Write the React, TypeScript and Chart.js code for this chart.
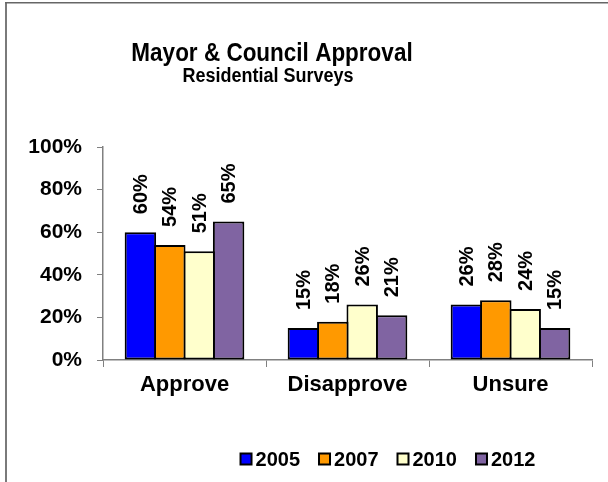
import React, { useEffect, useRef } from "react";
import { Chart, registerables } from "chart.js";

Chart.register(...registerables);

const categories = ["Approve", "Disapprove", "Unsure"];
const years = ["2005", "2007", "2010", "2012"];
const series2005 = [60, 15, 26];
const series2007 = [54, 18, 28];
const series2010 = [51, 26, 24];
const series2012 = [65, 21, 15];
const yTicks = [0, 20, 40, 60, 80, 100];
const colors = ["#0000FF", "#FF9900", "#FFFFCC", "#8064A2"];
const titleText = "Mayor & Council Approval";
const subtitleText = "Residential Surveys";

const FONT = "Arial, 'Liberation Sans', sans-serif";

const decorPlugin = {
  id: "decor",
  beforeDraw(chart: any) {
    const ctx = chart.ctx;
    ctx.save();
    ctx.fillStyle = "#ffffff";
    ctx.fillRect(0, 0, chart.width, chart.height);
    ctx.fillStyle = "#7a7a7a";
    ctx.fillRect(5, 2, 2, chart.height - 2);
    ctx.fillStyle = "#666666";
    ctx.fillRect(5, 2, chart.width - 5, 1.5);
    ctx.fillStyle = "#000";
    ctx.textAlign = "center";
    ctx.textBaseline = "alphabetic";
    ctx.save();
    ctx.translate(272, 61);
    ctx.scale(1, 1.12);
    ctx.font = `bold 22.5px ${FONT}`;
    ctx.fillText(titleText, 0, 0);
    ctx.restore();
    ctx.save();
    ctx.translate(268, 82);
    ctx.scale(1, 1.08);
    ctx.font = `bold 18px ${FONT}`;
    ctx.fillText(subtitleText, 0, 0);
    ctx.restore();
    ctx.restore();
  },
  afterDatasetsDraw(chart: any) {
    const ctx = chart.ctx;
    ctx.save();
    ctx.fillStyle = "#000";
    ctx.font = `bold 20px ${FONT}`;
    ctx.textAlign = "left";
    ctx.textBaseline = "middle";
    chart.data.datasets.forEach((ds: any, i: number) => {
      const meta = chart.getDatasetMeta(i);
      meta.data.forEach((bar: any, j: number) => {
        ctx.save();
        ctx.translate(bar.x, bar.y - 18);
        ctx.rotate(-Math.PI / 2);
        ctx.fillText(ds.data[j] + "%", 0, 1);
        ctx.restore();
      });
    });
    // legend
    ctx.font = `bold 20px ${FONT}`;
    ctx.textBaseline = "middle";
    const box = 11;
    const gap = 4;
    const itemGap = 19;
    const widths = chart.data.datasets.map((ds: any) => box + gap + ctx.measureText(ds.label).width);
    const total = widths.reduce((a: number, b: number) => a + b, 0) + itemGap * (widths.length - 1);
    let x = 388 - total / 2;
    const y = 459;
    chart.data.datasets.forEach((ds: any, i: number) => {
      ctx.fillStyle = ds.backgroundColor;
      ctx.fillRect(x, y - box / 2, box, box);
      ctx.strokeStyle = "#000";
      ctx.lineWidth = 2;
      ctx.strokeRect(x, y - box / 2, box, box);
      ctx.fillStyle = "#000";
      ctx.textAlign = "left";
      ctx.fillText(ds.label, x + box + gap, y + 1);
      x += widths[i] + itemGap;
    });
    ctx.restore();
  },
};

export default function App() {
  const ref = useRef<HTMLCanvasElement>(null);
  useEffect(() => {
    document.body.style.margin = "0";
    const seriesList = [series2005, series2007, series2010, series2012];
    const chart = new Chart(ref.current as HTMLCanvasElement, {
      type: "bar",
      data: {
        labels: categories,
        datasets: years.map((y, i) => ({
          label: y,
          data: seriesList[i],
          backgroundColor: colors[i],
          borderColor: "#000000",
          borderWidth: 2,
          borderSkipped: false,
          categoryPercentage: 0.7216,
          barPercentage: 1.07,
        })),
      },
      options: {
        animation: false,
        responsive: false,
        devicePixelRatio: 1,
        layout: { padding: { left: 0, right: 16, top: 147, bottom: 72 } },
        plugins: {
          legend: { display: false },
          title: { display: false },
          tooltip: { enabled: false },
        },
        scales: {
          x: {
            afterFit: (s: any) => {
              s.height = 50;
            },
            grid: {
              display: true,
              drawOnChartArea: false,
              drawTicks: true,
              tickLength: 7,
              color: "#808080",
              offset: true,
            },
            border: { display: true, color: "#808080", width: 1.5 },
            ticks: {
              color: "#000",
              padding: 5,
              font: { family: FONT, size: 22, weight: "bold" },
            },
          },
          y: {
            min: 0,
            max: 100,
            afterFit: (s: any) => {
              s.width = 103;
            },
            afterBuildTicks: (s: any) => {
              s.ticks = yTicks.map((v) => ({ value: v }));
            },
            grid: {
              display: true,
              drawOnChartArea: false,
              drawTicks: true,
              tickLength: 6,
              color: "#808080",
            },
            border: { display: true, color: "#808080", width: 1.5 },
            ticks: {
              color: "#000",
              padding: 15,
              font: { family: FONT, size: 21, weight: "bold" },
              callback: (v: any) => v + "%",
            },
          },
        },
      },
      plugins: [decorPlugin],
    });
    return () => chart.destroy();
  }, []);
  return <canvas ref={ref} width={608} height={482} style={{ display: "block" }} />;
}
